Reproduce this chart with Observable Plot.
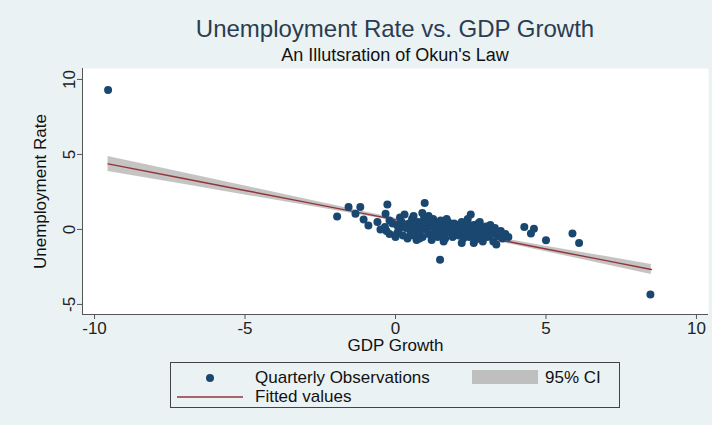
<!DOCTYPE html>
<html>
<head>
<meta charset="utf-8">
<script src="https://cdn.jsdelivr.net/npm/d3@7"></script>
<script src="https://cdn.jsdelivr.net/npm/@observablehq/plot@0.6"></script>
<style>
  html, body { margin: 0; padding: 0; background: #EAF2F3; }
  #wrap { position: relative; width: 712px; height: 425px; background: #EAF2F3; font-family: "Liberation Sans", Arial, sans-serif; overflow: hidden; }
  #title { position: absolute; left: 82px; width: 626px; top: 14px; text-align: center; font-size: 24px; color: #2b3d50; line-height: 30px; }
  #subtitle { position: absolute; left: 82px; width: 626px; top: 44px; text-align: center; font-size: 18px; color: #111; line-height: 22px; }
  #chart { position: absolute; left: 0; top: 62px; }
  #legend { position: absolute; left: 170px; top: 362px; width: 450px; height: 46px; border: 1px solid #444; box-sizing: border-box; font-size: 17px; color: #111; }
  .lg { position: absolute; line-height: 18px; white-space: nowrap; }
</style>
</head>
<body>
<div id="wrap">
  <div id="title"></div>
  <div id="subtitle"></div>
  <div id="chart"></div>
  <div id="legend"></div>
</div>
<script>
// ---- text ----
const titleText = "Unemployment Rate vs. GDP Growth";
const subtitleText = "An Illutsration of Okun's Law";
const xLabel = "GDP Growth";
const yLabel = "Unemployment Rate";
const legendLabels = ["Quarterly Observations", "95% CI", "Fitted values"];

// ---- ticks ----
const xTicks = [-10, -5, 0, 5, 10];
const yTicks = [-5, 0, 5, 10];

// ---- observations ----
const gdpGrowth = [
  -9.55, 8.47,
  -1.94, -1.56, -1.17, -1.33, -1.06, -0.9, -0.27, -0.33, -0.35, -0.2, 0.97, 0.89, 2.5, 1.48,
  4.28, 4.6, 4.5, 5.0, 5.88, 6.1,
  -0.3, -0.1, -0.2, 0.05, -0.6, -0.5,
  0.05, 0.1, 0.15, 0.2, 0.25, 0.3, 0.35, 0.4, 0.45, 0.5, 0.0, 0.1,
  0.55, 0.6, 0.65, 0.7, 0.75, 0.8, 0.85, 0.9, 0.95, 1.0, 0.6, 0.8,
  1.05, 1.1, 1.15, 1.2, 1.25, 1.3, 1.35, 1.4, 1.45, 1.5, 1.1, 1.3,
  1.55, 1.6, 1.65, 1.7, 1.75, 1.8, 1.85, 1.9, 1.95, 2.0, 1.7, 1.6,
  2.05, 2.1, 2.15, 2.2, 2.25, 2.3, 2.35, 2.4, 2.45, 2.5, 2.2, 2.4,
  2.55, 2.6, 2.65, 2.7, 2.75, 2.8, 2.85, 2.9, 2.95, 3.0, 2.6, 2.8,
  3.05, 3.1, 3.2, 3.25, 3.3, 3.4, 3.5, 3.55, 3.65, 3.75, 3.35, 3.15,
  0.3, 0.7, 1.2, 1.6, 2.1, 2.6, 3.0, 3.4, 0.5, 0.9, 1.4, 1.9, 2.3, 2.8
];
const unempRate = [
  9.3, -4.33,
  0.87, 1.5, 1.49, 1.04, 0.66, 0.27, 1.67, 1.05, 0.16, 0.6, 1.76, 1.1, 1.0, -2.02,
  0.16, 0.05, -0.27, -0.72, -0.27, -0.9,
  -0.1, 0.4, -0.3, -0.27, 0.5, 0.0,
  0.3, -0.2, 0.8, 0.5, -0.4, 1.0, 0.1, -0.6, 0.4, -0.1, -0.5, 0.05,
  0.7, -0.4, 0.2, -0.7, 0.5, -0.1, 0.3, -0.5, 0.8, 0.0, 0.9, -0.6,
  0.5, -0.3, 0.2, -0.7, 0.7, -0.1, 0.4, -0.5, 0.1, 0.6, 0.9, -0.4,
  -0.3, 0.3, -0.6, 0.0, 0.5, -0.2, 0.2, -0.5, 0.4, -0.1, 0.7, -0.8,
  0.3, -0.4, 0.0, 0.5, -0.6, 0.2, -0.2, 0.4, -0.5, 0.0, -0.9, 0.7,
  -0.3, 0.3, -0.7, 0.0, 0.4, -0.4, 0.1, -0.8, -0.2, 0.2, -0.9, 0.5,
  -0.5, 0.0, -0.3, -0.8, 0.1, -0.4, -0.1, -0.6, -0.3, -0.5, -1.0, 0.3,
  0.15, -0.25, 0.35, -0.35, 0.25, -0.15, -0.45, -0.2, -0.3, 0.45, -0.2, 0.25, -0.3, -0.6
];

// ---- fitted line and 95% CI ----
const fitX  = [-9.55, -7, -5, -3, -1, 1, 3, 5, 7, 8.5];
const fitY  = [4.37, 3.38, 2.60, 1.82, 1.04, 0.26, -0.52, -1.30, -2.08, -2.67];
const ciLow = [3.87, 2.99, 2.30, 1.61, 0.91, 0.18, -0.63, -1.48, -2.35, -3.01];
const ciHigh= [4.87, 3.77, 2.90, 2.03, 1.17, 0.34, -0.41, -1.12, -1.81, -2.33];

// ---- colours ----
const dotColor = "#1a476f";
const lineColor = "#90353b";
const ciColor = "#c0bcbd";

const obs = gdpGrowth.map((g, i) => ({x: g, y: unempRate[i]}));
const fit = fitX.map((x, i) => ({x, y: fitY[i], lo: ciLow[i], hi: ciHigh[i]}));

const xDomain = [-10.4, 10.4];
const yDomain = [-5.67, 10.73];
const fmt = d => String(d);

document.getElementById("title").textContent = titleText;
document.getElementById("subtitle").textContent = subtitleText;

const chart = Plot.plot({
  width: 712,
  height: 300,
  marginTop: 6,
  marginBottom: 48,
  marginLeft: 82,
  marginRight: 4,
  style: {background: "transparent", fontFamily: "Liberation Sans, Arial, sans-serif", color: "#222", overflow: "visible"},
  x: {domain: xDomain, ticks: xTicks},
  y: {domain: yDomain, ticks: yTicks},
  marks: [
    Plot.frame({fill: "white", stroke: "none"}),
    Plot.areaY(fit, {x: "x", y1: "lo", y2: "hi", fill: ciColor, fillOpacity: 0.9}),
    Plot.line(fit, {x: "x", y: "y", stroke: lineColor, strokeWidth: 1.4}),
    Plot.dot(obs, {x: "x", y: "y", r: 4, fill: dotColor, stroke: "none"}),
    Plot.ruleY([yDomain[0]], {stroke: "#555", strokeWidth: 1}),
    Plot.ruleX([xDomain[0]], {stroke: "#555", strokeWidth: 1}),
    Plot.axisX({ticks: xTicks, tickFormat: fmt, tickSize: 5, tickPadding: 2, fontSize: 17, label: null, stroke: "#555"}),
    Plot.axisY({ticks: yTicks, tickFormat: fmt, tickSize: 5, tickPadding: 3, fontSize: 17, tickRotate: -90, label: null, stroke: "#555"}),
    Plot.text([xLabel], {frameAnchor: "bottom", lineAnchor: "middle", dy: 31, fontSize: 17, fill: "#111"}),
    Plot.text([yLabel], {frameAnchor: "left", textAnchor: "middle", lineAnchor: "middle", dx: -42, rotate: -90, fontSize: 17, fill: "#111"})
  ]
});
document.getElementById("chart").appendChild(chart);

// ---- legend ----
const lg = document.getElementById("legend");
lg.innerHTML = `
  <svg width="450" height="46" style="position:absolute;left:0;top:0">
    <circle cx="39" cy="15" r="4" fill="${dotColor}"></circle>
    <rect x="301" y="7" width="66" height="14" fill="#bfbfbf"></rect>
    <line x1="6" x2="72" y1="34" y2="34" stroke="${lineColor}" stroke-width="1.4"></line>
  </svg>
  <div class="lg" style="left:84px;top:6px">${legendLabels[0]}</div>
  <div class="lg" style="left:374px;top:6px">${legendLabels[1]}</div>
  <div class="lg" style="left:84px;top:25px">${legendLabels[2]}</div>
`;
</script>
</body>
</html>
